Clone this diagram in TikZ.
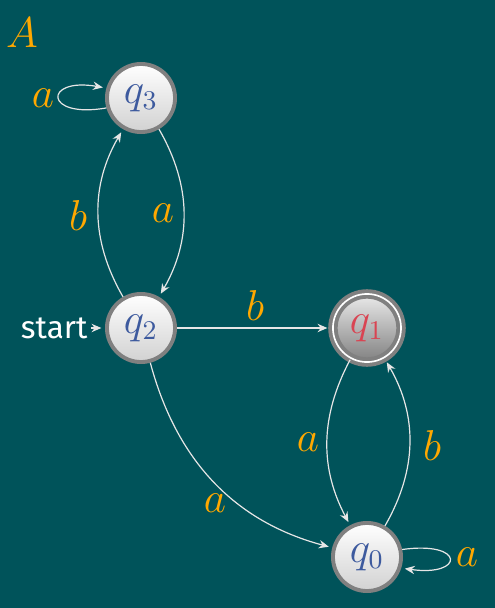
\documentclass[tikz,border=0pt]{standalone}
\usepackage{fontspec}
\setmainfont{Fira Sans}
\usetikzlibrary{arrows.meta}
\definecolor{bg}{HTML}{00535A}
\definecolor{labc}{HTML}{FFA800}
\definecolor{qblue}{HTML}{3D5A9E}
\definecolor{qred}{HTML}{D94452}
\definecolor{edgec}{HTML}{E6E6E6}
\definecolor{ring}{HTML}{808080}
\begin{document}
\begin{tikzpicture}[x=0.33333pt,y=0.33333pt,
  state/.style={circle, minimum size=22.7pt, inner sep=0pt, draw=ring, line width=1.3pt,
    top color=white, bottom color=black!18, font=\fontsize{13.5}{15}\selectfont, text=qblue},
  accept/.style={state, double=white, double distance=0.55pt, top color=black!8, bottom color=black!50, text=qred},
  lab/.style={text=labc, font=\fontsize{13.5}{15}\selectfont},
  tr/.style={draw=edgec, line width=0.4pt, -{Stealth[length=3.3pt,width=2.8pt,inset=1.1pt]}, shorten >=1.2pt}
]
\useasboundingbox (0,0) rectangle (495,608);
\fill[bg] (0,0) rectangle (495,608);
\node[state] (q3) at (141,510) {$q_3$};
\node[state] (q2) at (141,280) {$q_2$};
\node[accept] (q1) at (367,280) {$q_1$};
\node[state] (q0) at (367,51) {$q_0$};
\node[lab] (A) at (22,575) {$A$};
\node[text=white, font=\fontsize{10.5}{12}\selectfont, anchor=east, inner sep=1pt] (start) at (91,280) {start};
\draw[tr] (start) -- (q2);
\draw[tr] (q3) to[bend left=30] (q2);
\draw[tr] (q2) to[bend left=30] (q3);
\draw[tr] (q2) -- (q1);
\draw[tr] (q2) to[out=-75,in=165] (q0);
\draw[tr] (q1) to[bend right=28] (q0);
\draw[tr] (q0) to[bend right=30] (q1);
\draw[tr] (q3.196) .. controls +(190:64) and +(170:64) .. (q3.164);
\draw[tr] (q0.12) .. controls +(8:64) and +(-8:64) .. (q0.-18);
\node[lab] (l1) at (43,510) {$a$};
\node[lab] (l2) at (163,395) {$a$};
\node[lab] (l3) at (78,393) {$b$};
\node[lab] (l4) at (255,303) {$b$};
\node[lab] (l5) at (215,105) {$a$};
\node[lab] (l6) at (308,166) {$a$};
\node[lab] (l7) at (432,163) {$b$};
\node[lab] (l8) at (467,51) {$a$};
\end{tikzpicture}
\end{document}
